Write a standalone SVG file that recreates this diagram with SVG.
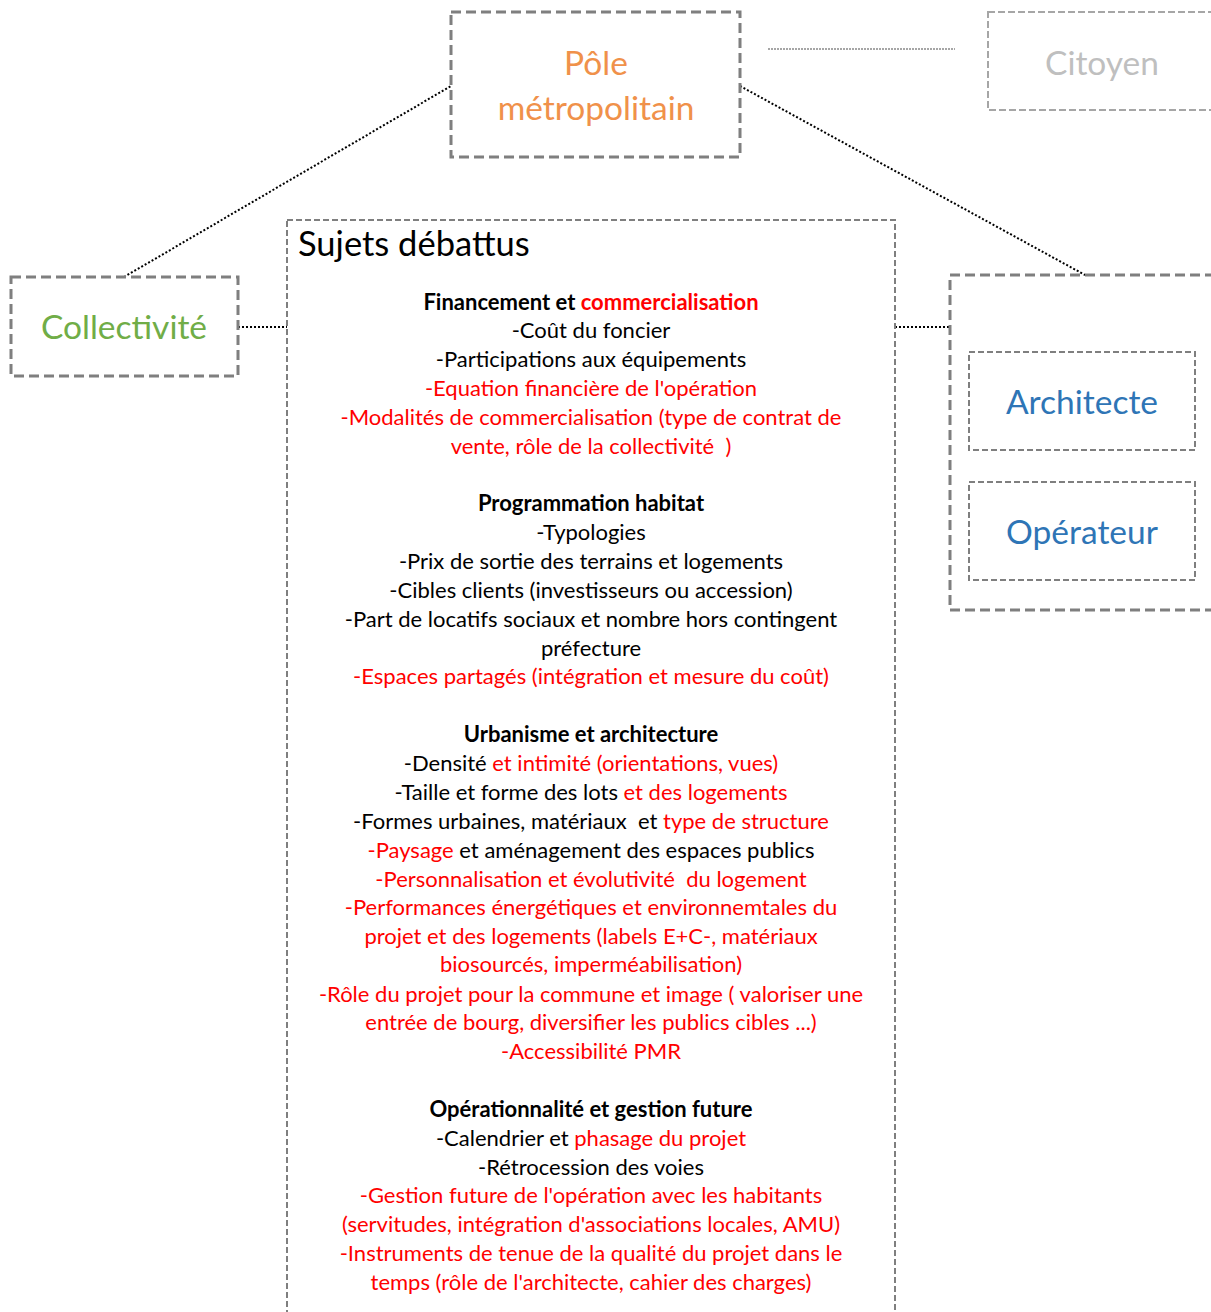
<svg xmlns="http://www.w3.org/2000/svg" width="1211" height="1312" viewBox="0 0 1211 1312">
<style>
.box{fill:none;stroke:#7f7f7f;stroke-width:3;stroke-dasharray:10 5}
.thin{fill:none;stroke:#7f7f7f;stroke-width:2;stroke-dasharray:6 3}
.light{fill:none;stroke:#a6a6a6;stroke-width:2;stroke-dasharray:7 3}
.con{fill:none;stroke:#000;stroke-width:2;stroke-dasharray:2 2}
.lbl{font-family:Lato,"Open Sans",sans-serif;font-size:33.5px;text-anchor:middle}
.t{font-family:Lato,"Open Sans",sans-serif;font-size:22px;text-anchor:middle;fill:#000;white-space:pre}
.b{font-weight:bold}
.r{fill:#ff0000}
</style>
<rect width="1211" height="1312" fill="#fff"/>
<g id="connectors">
<line class="con" x1="124" y1="277" x2="451" y2="86"/>
<line class="con" x1="740" y1="86" x2="1085" y2="275"/>
<line class="con" x1="238" y1="327" x2="287" y2="327"/>
<line class="con" x1="895" y1="327" x2="950" y2="327"/>
<line x1="768" y1="49" x2="955" y2="49" stroke="#a6a6a6" stroke-width="2" stroke-dasharray="2 1"/>
</g>
<g id="pole">
<rect class="box" x="451" y="12" width="289" height="145"/>
<text class="lbl" x="596" y="75" fill="#f0914a">Pôle</text>
<text class="lbl" x="596" y="120" fill="#f0914a">métropolitain</text>
</g>
<g id="citoyen">
<rect class="light" x="988" y="12" width="240" height="98"/>
<text class="lbl" x="1102" y="75" fill="#bfbfbf">Citoyen</text>
</g>
<g id="collectivite">
<rect class="box" x="11" y="277" width="227" height="99"/>
<text class="lbl" x="124" y="339" fill="#70ad47">Collectivité</text>
</g>
<g id="acteurs">
<rect class="box" x="950" y="275" width="280" height="335"/>
<g id="architecte">
<rect class="thin" x="969" y="352" width="226" height="98"/>
<text class="lbl" x="1082" y="414" fill="#2e75b6">Architecte</text>
</g>
<g id="operateur">
<rect class="thin" x="969" y="482" width="226" height="98"/>
<text class="lbl" x="1082" y="544" fill="#2e75b6">Opérateur</text>
</g>
</g>
<g id="sujets">
<rect class="thin" x="287" y="220" width="608" height="1110"/>
<text x="298" y="256" font-family="Lato,'Open Sans',sans-serif" font-size="34.5" fill="#000">Sujets débattus</text>
<text class="t b" x="591" y="310">Financement et <tspan class="r">commercialisation</tspan></text>
<text class="t" x="591" y="338">-Coût du foncier</text>
<text class="t" x="591" y="367">-Participations aux équipements</text>
<text class="t r" x="591" y="396">-Equation financière de l'opération</text>
<text class="t r" x="591" y="425">-Modalités de commercialisation (type de contrat de</text>
<text class="t r" x="591" y="454">vente, rôle de la collectivité  )</text>
<text class="t b" x="591" y="511">Programmation habitat</text>
<text class="t" x="591" y="540">-Typologies</text>
<text class="t" x="591" y="569">-Prix de sortie des terrains et logements</text>
<text class="t" x="591" y="598">-Cibles clients (investisseurs ou accession)</text>
<text class="t" x="591" y="627">-Part de locatifs sociaux et nombre hors contingent</text>
<text class="t" x="591" y="656">préfecture</text>
<text class="t r" x="591" y="684">-Espaces partagés (intégration et mesure du coût)</text>
<text class="t b" x="591" y="742">Urbanisme et architecture</text>
<text class="t" x="591" y="771">-Densité <tspan class="r">et intimité (orientations, vues)</tspan></text>
<text class="t" x="591" y="800">-Taille et forme des lots <tspan class="r">et des logements</tspan></text>
<text class="t" x="591" y="829">-Formes urbaines, matériaux  et <tspan class="r">type de structure</tspan></text>
<text class="t" x="591" y="858"><tspan class="r">-Paysage</tspan> et aménagement des espaces publics</text>
<text class="t r" x="591" y="887">-Personnalisation et évolutivité  du logement</text>
<text class="t r" x="591" y="915">-Performances énergétiques et environnemtales du</text>
<text class="t r" x="591" y="944">projet et des logements (labels E+C-, matériaux</text>
<text class="t r" x="591" y="972">biosourcés, imperméabilisation)</text>
<text class="t r" x="591" y="1002">-Rôle du projet pour la commune et image ( valoriser une</text>
<text class="t r" x="591" y="1030">entrée de bourg, diversifier les publics cibles ...)</text>
<text class="t r" x="591" y="1059">-Accessibilité PMR</text>
<text class="t b" x="591" y="1117">Opérationnalité et gestion future</text>
<text class="t" x="591" y="1146">-Calendrier et <tspan class="r">phasage du projet</tspan></text>
<text class="t" x="591" y="1175">-Rétrocession des voies</text>
<text class="t r" x="591" y="1203">-Gestion future de l'opération avec les habitants</text>
<text class="t r" x="591" y="1232">(servitudes, intégration d'associations locales, AMU)</text>
<text class="t r" x="591" y="1261">-Instruments de tenue de la qualité du projet dans le</text>
<text class="t r" x="591" y="1290">temps (rôle de l'architecte, cahier des charges)</text>
</g>
</svg>
